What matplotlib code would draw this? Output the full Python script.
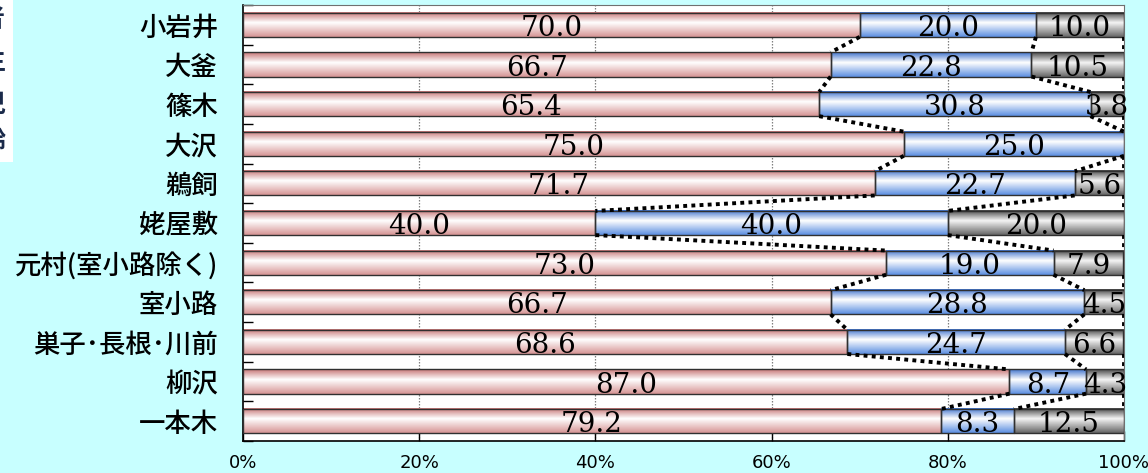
import numpy as np
import matplotlib
matplotlib.use("Agg")
import matplotlib.pyplot as plt
from matplotlib.patches import Rectangle

plt.rcParams['font.family'] = ['Noto Sans CJK JP', 'DejaVu Sans']

areas = ["小岩井", "大釜", "篠木", "大沢", "鵜飼", "姥屋敷", "元村(室小路除く)",
         "室小路", "巣子･長根･川前", "柳沢", "一本木"]
pink_vals = [70.0, 66.7, 65.4, 75.0, 71.7, 40.0, 73.0, 66.7, 68.6, 87.0, 79.2]
blue_vals = [20.0, 22.8, 30.8, 25.0, 22.7, 40.0, 19.0, 28.8, 24.7, 8.7, 8.3]
gray_vals = [10.0, 10.5, 3.8, 0.0, 5.6, 20.0, 7.9, 4.5, 6.6, 4.3, 12.5]
xticks = [0, 20, 40, 60, 80, 100]
xtick_labels = ["0%", "20%", "40%", "60%", "80%", "100%"]

bg = "#C8FFFF"
fig = plt.figure(figsize=(11.48, 4.73), dpi=100, facecolor=bg)
ax = fig.add_axes([243/1148, 32/473, (1124-243)/1148, (468-32)/473])
ax.set_facecolor("white")

h = 0.61


def grad(edge_top, mid, edge_bot, n=64):
    t = np.linspace(0, 1, n)
    out = np.zeros((n, 1, 3))
    for i, v in enumerate(t):
        if v < 0.42:
            f = v / 0.42
            c = np.array(edge_top) * (1 - f) + np.array(mid) * f
        else:
            f = (v - 0.42) / 0.58
            c = np.array(mid) * (1 - f) + np.array(edge_bot) * f
        out[i, 0] = c
    return out


g_pink = grad((0.78, 0.46, 0.46), (1, 1, 1), (0.84, 0.58, 0.58))
g_blue = grad((0.25, 0.45, 0.80), (1, 1, 1), (0.36, 0.56, 0.88))
g_gray = grad((0.28, 0.28, 0.28), (0.96, 0.96, 0.96), (0.40, 0.40, 0.40))

pink = np.array(pink_vals)
blue = np.array(blue_vals)
gray = np.array(gray_vals)
ys = np.arange(len(areas))

for xg in xticks[1:-1]:
    ax.axvline(xg, color="#808080", lw=0.9, ls=(0, (1.2, 1.2)), zorder=1)

lefts = [np.zeros(len(areas)), pink, pink + blue]
for vals, left, g in [(pink, lefts[0], g_pink), (blue, lefts[1], g_blue), (gray, lefts[2], g_gray)]:
    for y, v, l in zip(ys, vals, left):
        if v <= 0:
            continue
        ax.imshow(g, extent=(l, l + v, y + h/2, y - h/2), origin="upper",
                  aspect="auto", zorder=2, interpolation="bilinear")
        ax.add_patch(Rectangle((l, y - h/2), v, h, fill=False,
                               edgecolor="#303030", lw=1.0, zorder=3))
        ax.text(l + v/2, y + 0.28, f"{v:.1f}", ha="center", va="baseline",
                fontsize=20, family="DejaVu Serif", color="black", zorder=5)

# series lines
bounds = [pink, pink + blue, np.full(len(areas), 100.0)]
for b in bounds:
    for i in range(len(areas) - 1):
        ax.plot([b[i], b[i+1]], [i + h/2, i + 1 - h/2], color="black",
                lw=2.8, ls=(0, (1, 1.1)), zorder=4, solid_capstyle="butt")

ax.set_xlim(0, 100)
ax.set_ylim(len(areas) - 0.5, -0.5)
ax.set_xticks(xticks)
ax.set_xticklabels(xtick_labels, fontsize=13,
                   family=["Liberation Sans Narrow", "DejaVu Sans Condensed", "DejaVu Sans"])
ax.set_yticks(ys)
ax.set_yticklabels(areas, fontsize=19, weight="medium")
ax.set_yticks(np.arange(len(areas) + 1) - 0.5, minor=True)
ax.tick_params(axis="y", which="major", length=0, pad=18)
ax.tick_params(axis="y", which="minor", direction="in", length=7, width=1, color="black")
ax.tick_params(axis="x", direction="in", length=7, width=1, pad=9)
for s in ["left", "bottom"]:
    ax.spines[s].set_color("black")
    ax.spines[s].set_linewidth(1.2)
for s in ["top", "right"]:
    ax.spines[s].set_color("#707070")
    ax.spines[s].set_linewidth(0.8)

# cut-off side box at left edge
fig.patches.append(Rectangle((0, (473-162)/473), 13/1148, 162/473, transform=fig.transFigure,
                             facecolor="white", edgecolor="none", zorder=0))
for ch, yy in zip(["者", "生", "児", "齢"], [20, 62, 105, 142]):
    fig.text(5/1148, 1 - yy/473, ch, ha="right", va="center", fontsize=18,
             color="#1a2a4a", weight="bold")

fig.savefig("out.png", dpi=100, facecolor=bg)
